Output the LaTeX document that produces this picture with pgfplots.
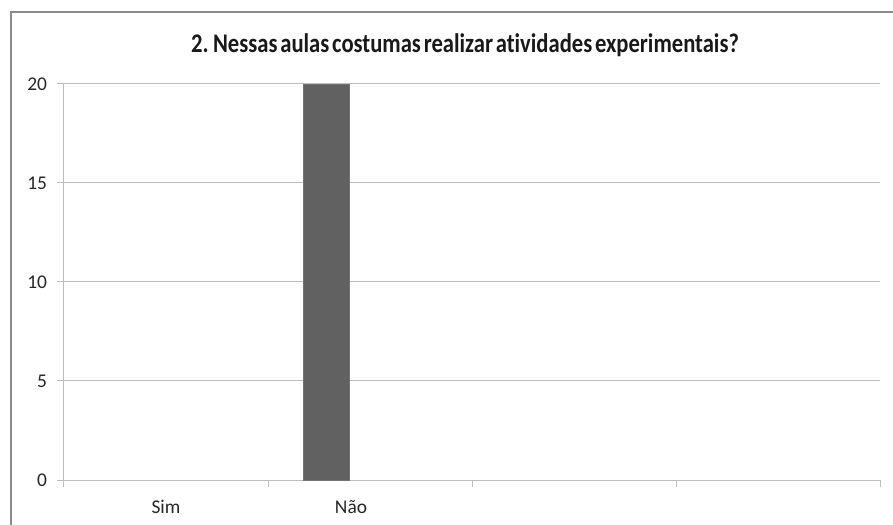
\documentclass[border=0pt]{standalone}
\usepackage{pgfplots}
\pgfplotsset{compat=1.18}
\usepackage{fontspec}
\setmainfont{Carlito}
\newfontfamily\titlefont[FakeStretch=0.84,WordSpace=0.55,Ligatures=NoCommon]{Carlito Bold}
\definecolor{gridc}{HTML}{BDBDBD}
\definecolor{barc}{HTML}{616161}
\definecolor{framec}{HTML}{8A8A8A}
\begin{document}
\begin{tikzpicture}
\useasboundingbox (-64bp,-45bp) rectangle (829bp,480bp);
\begin{axis}[
  at={(0,0)}, anchor=south west,
  scale only axis, width=816bp, height=396bp,
  xmin=-0.5, xmax=3.5, ymin=0, ymax=20,
  axis x line*=bottom, axis y line*=left,
  axis line style={gridc, line width=1bp},
  ytick={0,5,10,15,20},
  ymajorgrids, major grid style={gridc, line width=1bp},
  tick align=outside,
  major tick length=6.5bp,
  tick style={gridc, line width=1bp},
  xtick={-0.5,0.5,1.5,2.5,3.5}, xticklabels={},
  extra x ticks={0,0.907}, extra x tick labels={Sim,Não},
  extra x tick style={major tick length=0pt, grid=none},
  xticklabel style={font=\fontsize{19.5}{22}\selectfont, text=black!85, yshift=-17bp},
  yticklabel style={font=\fontsize{19.5}{22}\selectfont, text=black!85, xshift=-7bp},
  /pgf/number format/assume math mode=true,
  clip=false,
]
\addplot[ybar, bar width=46bp, bar shift=0pt, fill=barc, draw=black!55, line width=0.6bp] coordinates {(0.784,20)};
\end{axis}
\draw[framec, line width=2bp] (-53bp,-46bp) -- (-53bp,468bp) -- (830bp,468bp);
\node[font=\titlefont\fontsize{27}{30}\selectfont, text=black!90] at (401bp,435bp) {2. Nessas aulas costumas realizar atividades experimentais?};
\end{tikzpicture}
\end{document}
